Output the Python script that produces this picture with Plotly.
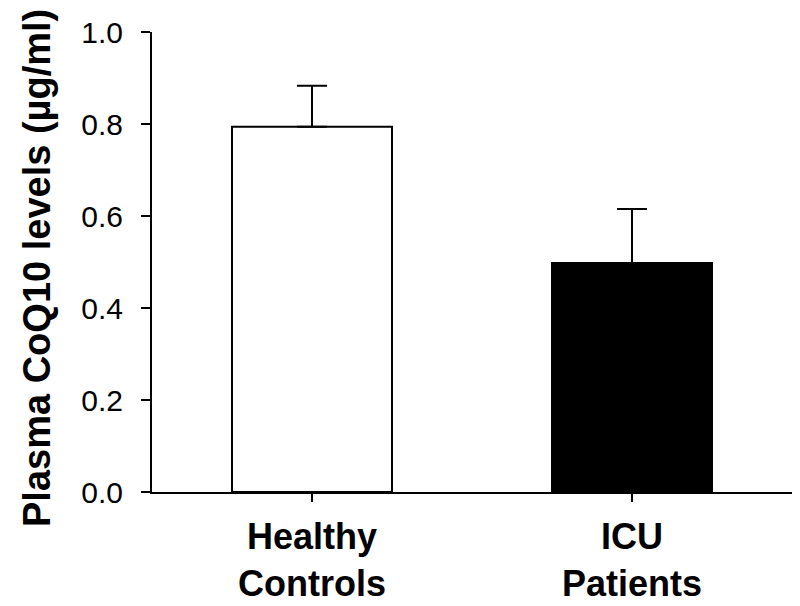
import plotly.graph_objects as go

categories = ["Healthy<br>Controls", "ICU<br>Patients"]
means = [0.794, 0.498]
sem_upper = [0.089, 0.117]
bar_fill = ["white", "black"]

y_ticks = [0.0, 0.2, 0.4, 0.6, 0.8, 1.0]
y_tick_labels = ["0.0", "0.2", "0.4", "0.6", "0.8", "1.0"]
y_title = "Plasma CoQ10 levels (µg/ml)"

FONT = "Arial, 'Liberation Sans', Helvetica, sans-serif"

fig = go.Figure()
fig.add_trace(go.Bar(
    x=categories,
    y=means,
    width=0.5,
    marker=dict(color=bar_fill, line=dict(color="black", width=2)),
    error_y=dict(type="data", array=sem_upper, arrayminus=[0, 0], symmetric=False,
                 color="black", thickness=2, width=15),
    showlegend=False,
))

# page has an 8px body margin, so the figure is offset by (8, 8)
fig.update_layout(
    width=792, height=598,
    margin=dict(l=144, r=8, t=24, b=114),
    paper_bgcolor="white", plot_bgcolor="white",
    font=dict(family=FONT, color="black"),
    bargap=0.5,
)

fig.update_xaxes(
    range=[-0.5, 1.5],
    automargin=False,
    showline=True, linecolor="black", linewidth=2,
    ticks="outside", ticklen=8, tickwidth=2, tickcolor="black",
    tickfont=dict(size=36, family=FONT, weight="bold", color="black"),
    showgrid=False, zeroline=False,
    ticklabelstandoff=4,
)

fig.update_yaxes(
    range=[0, 1.0],
    automargin=False,
    tickvals=y_ticks, ticktext=y_tick_labels,
    showline=True, linecolor="black", linewidth=2,
    ticks="outside", ticklen=9, tickwidth=2, tickcolor="black",
    tickfont=dict(size=30, family=FONT, color="black"),
    showgrid=False, zeroline=False,
    ticklabelstandoff=12,
)

fig.add_annotation(
    text=y_title, textangle=-90,
    xref="paper", yref="paper", x=-0.1797, y=0.487,
    xanchor="center", yanchor="middle", showarrow=False,
    font=dict(size=38, family=FONT, weight="bold", color="black"),
)

fig.write_html("out.html")
